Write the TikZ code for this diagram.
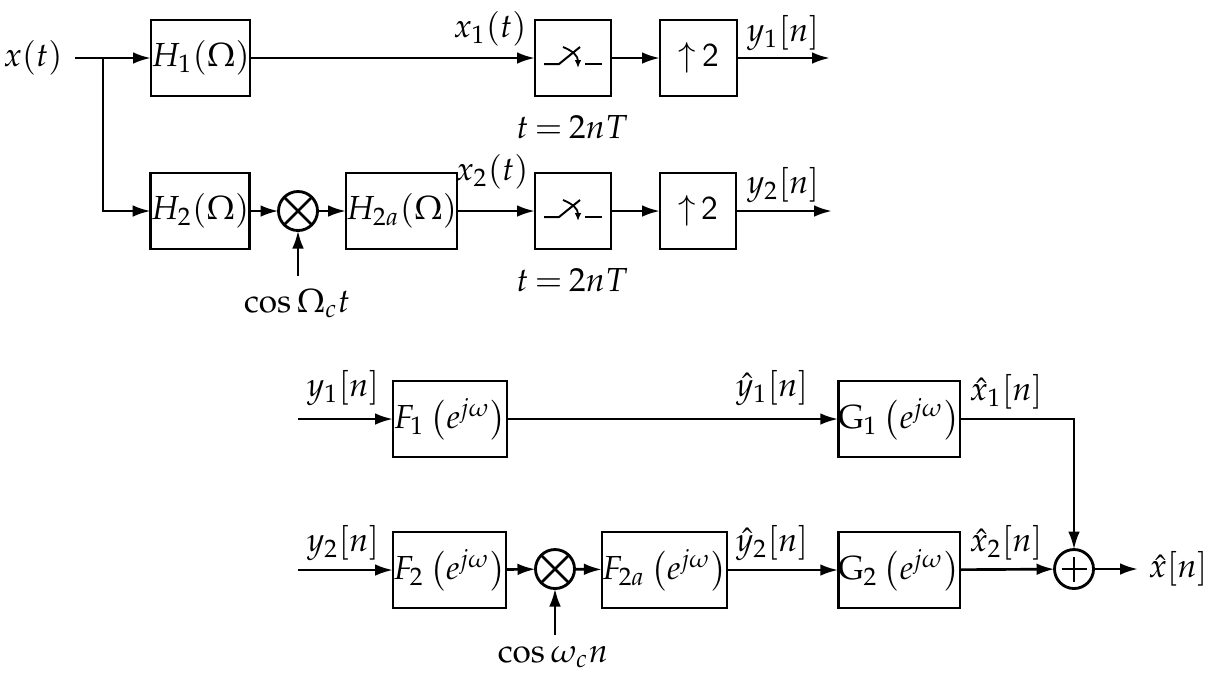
\documentclass[tikz,border=0pt]{standalone}
\usepackage{mathpazo}
\usetikzlibrary{arrows.meta}
\newcommand\mysampler[1]{%
  \begin{scope}[shift={(#1)}, line width=0.6pt]
    \draw (-29,6) -- (-14,6) -- (7,-11);
    \draw[-{Latex[length=2.4pt,width=2pt]}, line width=0.55pt] (-10,-11) .. controls (0,-7) and (5,-2) .. (5,10);
    \draw (12,6) -- (29,6);
  \end{scope}}
\begin{document}
\begin{tikzpicture}[x=0.3pt,y=-0.3pt, line width=0.8pt,
  blk/.style={draw, line width=0.75pt, minimum height=22.8pt, inner sep=0pt, outer sep=0pt},
  mix/.style={draw, circle, line width=0.85pt, minimum size=11.7pt, inner sep=0pt, outer sep=0pt},
  arr/.style={-{Latex[length=5.4pt,width=3.5pt]}},
  lbl/.style={inner sep=0pt}]
\useasboundingbox (0,0) rectangle (1213,675);

% ---- top system
\node[lbl] (xin) at (33,58) {$x(t)$};
\coordinate (xs) at (75,58);
\coordinate (br) at (103,58);
\node[blk, minimum width=29.7pt] (H1) at (200.5,58) {$H_1(\Omega)$};
\node[blk, minimum width=22.8pt] (S1) at (573,58) {};
\node[blk, minimum width=23.1pt] (U1) at (698.5,58) {$\uparrow$\,\textsf{2}};
\coordinate (o1) at (830,58);

\node[blk, minimum width=29.4pt] (H2) at (200,211) {$H_2(\Omega)$};
\node[mix] (M1) at (298,211) {};
\node[blk, minimum width=32.7pt] (H2a) at (401.5,211) {$H_{2a}(\Omega)$};
\node[blk, minimum width=22.8pt] (S2) at (573,211) {};
\node[blk, minimum width=22.8pt] (U2) at (698,211) {$\uparrow$\,\textsf{2}};
\coordinate (o2) at (832,211);
\coordinate (c1t) at (298,276);

\draw[arr] (xs) -- (H1);
\draw[arr] (br) |- (H2);
\draw[arr] (H1) -- (S1);
\draw[arr] (S1) -- (U1);
\draw[arr] (U1) -- (o1);
\draw[arr] (H2) -- (M1);
\draw[arr] (M1) -- (H2a);
\draw[arr] (H2a) -- (S2);
\draw[arr] (S2) -- (U2);
\draw[arr] (U2) -- (o2);
\draw[arr] (c1t) -- (M1);
\draw (M1.45) -- (M1.225) (M1.135) -- (M1.315);
\mysampler{S1}
\mysampler{S2}

\node[lbl] (lx1) at (490,29) {$x_1(t)$};
\node[lbl] (ly1) at (783,33) {$y_1[n]$};
\node[lbl] (lt1) at (572,127) {$t\:{=}\:2nT$};
\node[lbl] (lx2) at (492,172) {$x_2(t)$};
\node[lbl] (ly2) at (783,185) {$y_2[n]$};
\node[lbl] (lt2) at (572,280) {$t\:{=}\:2nT$};
\node[lbl] (lc1) at (297,303) {$\cos\Omega_c t$};

% ---- bottom system
\coordinate (i1) at (298,419);
\coordinate (i2) at (298,570);
\node[blk, minimum width=34.2pt] (F1) at (450,419) {$F_1\left(e^{j\omega}\right)$};
\node[blk, minimum width=36pt] (G1) at (899,419) {$\mathrm{G}_1\left(e^{j\omega}\right)$};
\node[blk, minimum width=33.9pt] (F2) at (449.5,570) {$F_2\left(e^{j\omega}\right)$};
\node[mix] (M2) at (555,569) {};
\node[blk, minimum width=37.5pt] (F2a) at (664.5,570) {$F_{2a}\left(e^{j\omega}\right)$};
\node[blk, minimum width=36pt] (G2) at (899,570) {$\mathrm{G}_2\left(e^{j\omega}\right)$};
\node[mix] (A) at (1074,569) {};
\coordinate (o3) at (1138,569);
\coordinate (c2t) at (555,635);

\draw[arr] (i1) -- (F1);
\draw[arr] (F1) -- (G1);
\draw[arr] (G1) -| (A);
\draw[arr] (i2) -- (F2);
\draw[arr] (F2) -- (M2);
\draw[arr] (M2) -- (F2a);
\draw[arr] (F2a) -- (G2);
\draw[arr] (G2) -- (A);
\draw[arr] (A) -- (o3);
\draw[arr] (c2t) -- (M2);
\draw (M2.45) -- (M2.225) (M2.135) -- (M2.315);
\draw ([yshift=-2.1pt]A.north) -- ([yshift=2.1pt]A.south)
      ([xshift=2.1pt]A.west) -- ([xshift=-2.1pt]A.east);

\node[lbl] (ly1b) at (343,388) {$y_1[n]$};
\node[lbl] (lyh1) at (772,388) {$\hat{y}_1[n]$};
\node[lbl] (lxh1) at (1006,392) {$\hat{x}_1[n]$};
\node[lbl] (ly2b) at (343,543) {$y_2[n]$};
\node[lbl] (lyh2) at (772,543) {$\hat{y}_2[n]$};
\node[lbl] (lxh2) at (1006,543) {$\hat{x}_2[n]$};
\node[lbl] (lxh) at (1178,569) {$\hat{x}[n]$};
\node[lbl] (lc2) at (553,657) {$\cos\omega_c n$};
\end{tikzpicture}
\end{document}
